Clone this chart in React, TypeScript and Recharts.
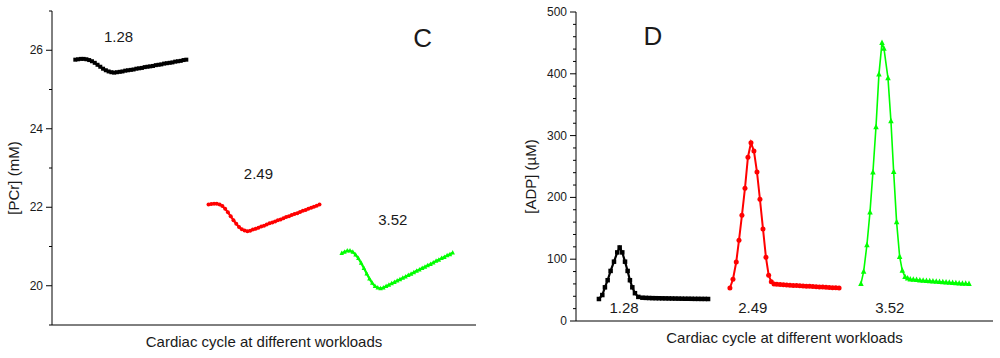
import { LineChart, Line, XAxis, YAxis, ReferenceDot } from 'recharts'

// time inside one cardiac cycle (fraction of the cycle)
const pcrTime = [
  0, 0.025, 0.05, 0.075, 0.1, 0.125, 0.15, 0.175, 0.2, 0.225, 0.25, 0.275, 0.3, 0.325, 0.35, 0.375, 0.4,
  0.425, 0.45, 0.475, 0.5, 0.525, 0.55, 0.575, 0.6, 0.625, 0.65, 0.675, 0.7, 0.725, 0.75, 0.775, 0.8,
  0.825, 0.85, 0.875, 0.9, 0.925, 0.95, 0.975, 1,
]

// [PCr] (mM) at workloads 1.28, 2.49, 3.52
const pcrBlack = [
  25.76, 25.77, 25.78, 25.78, 25.77, 25.75, 25.72, 25.68, 25.63, 25.58, 25.53, 25.49, 25.46, 25.44, 25.43,
  25.44, 25.45, 25.46, 25.48, 25.49, 25.5, 25.51, 25.53, 25.54, 25.55, 25.57, 25.58, 25.59, 25.6, 25.62,
  25.63, 25.64, 25.66, 25.67, 25.68, 25.69, 25.71, 25.72, 25.73, 25.75, 25.76,
]
const pcrRed = [
  22.07, 22.08, 22.09, 22.09, 22.07, 22.03, 21.96, 21.87, 21.77, 21.67, 21.58, 21.5, 21.44, 21.41, 21.39,
  21.4, 21.43, 21.45, 21.48, 21.51, 21.53, 21.56, 21.59, 21.61, 21.64, 21.67, 21.69, 21.72, 21.75, 21.77,
  21.8, 21.83, 21.85, 21.88, 21.91, 21.93, 21.96, 21.99, 22.01, 22.04, 22.07,
]
const pcrGreen = [
  20.83, 20.86, 20.89, 20.89, 20.86, 20.79, 20.7, 20.58, 20.45, 20.31, 20.18, 20.07, 19.99, 19.95, 19.93,
  19.95, 19.99, 20.02, 20.06, 20.09, 20.13, 20.16, 20.2, 20.23, 20.27, 20.3, 20.34, 20.38, 20.41, 20.45,
  20.48, 20.52, 20.55, 20.59, 20.63, 20.66, 20.7, 20.73, 20.77, 20.8, 20.84,
]

// [ADP] (uM), adaptive time steps
const adpTimeBlack = [
  0, 0.031, 0.055, 0.08, 0.107, 0.138, 0.168, 0.19, 0.214, 0.239, 0.263, 0.284, 0.306, 0.33, 0.361, 0.398,
  0.43, 0.46, 0.49, 0.52, 0.55, 0.58, 0.61, 0.64, 0.67, 0.7, 0.73, 0.76, 0.79, 0.82, 0.85, 0.88, 0.91,
  0.94, 0.97, 1,
]
const adpBlack = [
  35.6, 42, 54.5, 66, 81, 96, 111, 119, 111, 96, 81, 66, 54.5, 45, 39, 37.7,
  37.4, 37.2, 37, 36.9, 36.8, 36.7, 36.6, 36.5, 36.4, 36.3, 36.2, 36.1, 36, 36, 35.9, 35.8, 35.8, 35.7,
  35.7, 35.6,
]
const adpTimeRed = [
  0, 0.028, 0.058, 0.083, 0.11, 0.138, 0.165, 0.193, 0.22, 0.248, 0.275, 0.303, 0.33, 0.355, 0.379, 0.404,
  0.43, 0.46, 0.49, 0.52, 0.55, 0.58, 0.61, 0.64, 0.67, 0.7, 0.73, 0.76, 0.79, 0.82, 0.85, 0.88, 0.91,
  0.94, 0.97, 1,
]
const adpRed = [
  53.4, 67.5, 95.5, 130.6, 171, 215, 265, 288.5, 275, 241, 197, 149, 103, 74, 63.6, 60,
  59.5, 59, 58.6, 58.2, 57.9, 57.6, 57.3, 57, 56.7, 56.4, 56.1, 55.8, 55.5, 55.2, 54.9, 54.6, 54.3, 54,
  53.7, 53.5,
]
const adpTimeGreen = [
  0, 0.025, 0.055, 0.083, 0.11, 0.138, 0.165, 0.193, 0.211, 0.248, 0.275, 0.3, 0.327, 0.355, 0.379, 0.404,
  0.428, 0.452, 0.48, 0.51, 0.54, 0.57, 0.6, 0.63, 0.66, 0.69, 0.72, 0.75, 0.78, 0.81, 0.84, 0.87, 0.9,
  0.93, 0.96, 0.99,
]
const adpGreen = [
  60, 80, 123, 176, 240.6, 314, 399, 450, 441, 393, 323.6, 241.6, 160, 104, 81.5, 71.7, 69, 67.5,
  67, 66.5, 66, 65.6, 65.2, 64.8, 64.4, 64, 63.6, 63.2, 62.8, 62.4, 62, 61.6, 61.2, 60.8, 60.4, 60,
]

const cycleStart = [0.21, 1.41, 2.61]
const workloads = ['1.28', '2.49', '3.52']
const pcrLabelX = [0.6, 1.86, 3.07]
const pcrLabelY = [26.36, 22.85, 21.68]
const adpLabelX = [0.44, 1.62, 2.875]
const adpLabelY = [22, 22, 22]

const pcrTicks = [19, 20, 21, 22, 23, 24, 25, 26, 27]
const adpTicks = [
  0, 20, 40, 60, 80, 100, 120, 140, 160, 180, 200, 220, 240, 260, 280, 300, 320, 340, 360, 380, 400, 420,
  440, 460, 480, 500,
]

const FONT = '"Liberation Sans", Arial, Helvetica, sans-serif'
const colors = ['#000000', '#ff0000', '#00ff00']
const shapes = ['square', 'circle', 'triangle']

const toRows = (t: number[], v: number[], start: number) =>
  t.map((ti, i) => ({ x: start + ti, y: v[i] }))

function Marker({ cx, cy, shape, color, size }: any) {
  if (cx == null || cy == null) return null
  if (shape === 'square')
    return <rect x={cx - size / 2} y={cy - size / 2} width={size} height={size} fill={color} />
  if (shape === 'circle') return <circle cx={cx} cy={cy} r={size / 2} fill={color} />
  return (
    <polygon
      points={`${cx},${cy - size * 0.6} ${cx - size / 2},${cy + size * 0.4} ${cx + size / 2},${cy + size * 0.4}`}
      fill={color}
    />
  )
}

const yTick = (isMajor: (v: number) => boolean) => (props: any) => {
  const { x, y, payload, index } = props
  const major = isMajor(payload.value)
  return (
    <g key={`t-${index}`}>
      <line x1={x} x2={x - (major ? 6 : 3)} y1={y} y2={y} stroke="#000" strokeWidth={1} />
      {major && (
        <text x={x - 9} y={y} textAnchor="end" dominantBaseline="central" fontSize={12} fontFamily={FONT} fill="#1a1a1a">
          {payload.value}
        </text>
      )}
    </g>
  )
}

const yLabel = (text: string, dx: number) => (props: any) => {
  const vb = props.viewBox
  const cx = vb.x + dx
  const cy = vb.y + vb.height / 2 + 10
  return (
    <text x={cx} y={cy} transform={`rotate(-90 ${cx} ${cy})`} textAnchor="middle" dominantBaseline="central" fontSize={15} fontFamily={FONT} fill="#1a1a1a">
      {text}
    </text>
  )
}

const xLabel = (props: any) => {
  const vb = props.viewBox
  return (
    <text x={vb.x + vb.width / 2} y={vb.y + 22} textAnchor="middle" fontSize={15} fontFamily={FONT} fill="#1a1a1a">
      Cardiac cycle at different workloads
    </text>
  )
}

const textShape = (value: string, size: number) => (p: any) => (
  <text x={p.cx} y={p.cy} textAnchor="middle" dominantBaseline="central" fontSize={size} fontFamily={FONT} fill="#1a1a1a">
    {value}
  </text>
)

function PcrChart() {
  const series = [pcrBlack, pcrRed, pcrGreen]
  const sizes = [4, 4, 4.5]
  return (
    <LineChart width={500} height={358} margin={{ top: 11, right: 24, bottom: 0, left: 0 }}>
      <XAxis type="number" dataKey="x" domain={[0, 3.82]} tick={false} tickLine={false} height={33} stroke="#000" label={{ content: xLabel }} />
      <YAxis
        type="number"
        dataKey="y"
        domain={[19, 27]}
        ticks={pcrTicks}
        interval={0}
        width={52}
        tickSize={0}
        tickMargin={0}
        tickLine={false}
        stroke="#000"
        allowDataOverflow
        tick={yTick((v) => v % 2 === 0 && v !== 19 && v !== 27)}
        label={{ content: yLabel('[PCr] (mM)', 13) }}
      />
      {series.map((vals, k) => (
        <Line
          key={k}
          data={toRows(pcrTime, vals, cycleStart[k])}
          dataKey="y"
          type="linear"
          stroke={colors[k]}
          strokeWidth={2.2}
          isAnimationActive={false}
          dot={(p: any) => <Marker key={p.index} cx={p.cx} cy={p.cy} shape={shapes[k]} color={colors[k]} size={sizes[k]} />}
        />
      ))}
      {workloads.map((w, k) => (
        <ReferenceDot key={w} x={pcrLabelX[k]} y={pcrLabelY[k]} r={0} shape={textShape(w, 15)} />
      ))}
      <ReferenceDot x={3.34} y={26.3} r={0} shape={textShape('C', 26)} />
    </LineChart>
  )
}

function AdpChart() {
  const series = [
    [adpTimeBlack, adpBlack],
    [adpTimeRed, adpRed],
    [adpTimeGreen, adpGreen],
  ]
  const sizes = [4.5, 5, 5.5]
  const widths = [2.2, 2, 1.6]
  return (
    <LineChart width={500} height={358} margin={{ top: 12, right: 7, bottom: 0, left: 0 }}>
      <XAxis type="number" dataKey="x" domain={[0, 3.82]} tick={false} tickLine={false} height={37} stroke="#000" label={{ content: xLabel }} />
      <YAxis
        type="number"
        dataKey="y"
        domain={[0, 500]}
        ticks={adpTicks}
        interval={0}
        width={76}
        tickSize={0}
        tickMargin={0}
        tickLine={false}
        stroke="#000"
        allowDataOverflow
        tick={yTick((v) => v % 100 === 0)}
        label={{ content: yLabel('[ADP] (\u00b5M)', 30) }}
      />
      {series.map(([t, vals], k) => (
        <Line
          key={k}
          data={toRows(t, vals, cycleStart[k])}
          dataKey="y"
          type="linear"
          stroke={colors[k]}
          strokeWidth={widths[k]}
          isAnimationActive={false}
          dot={(p: any) => <Marker key={p.index} cx={p.cx} cy={p.cy} shape={shapes[k]} color={colors[k]} size={sizes[k]} />}
        />
      ))}
      {workloads.map((w, k) => (
        <ReferenceDot key={w} x={adpLabelX[k]} y={adpLabelY[k]} r={0} shape={textShape(w, 15)} />
      ))}
      <ReferenceDot x={0.705} y={461} r={0} shape={textShape('D', 26)} />
    </LineChart>
  )
}

export default function App() {
  return (
    <div style={{ position: 'absolute', left: 0, top: 0, width: 1000, height: 358, background: '#fff', fontFamily: FONT }}>
      <div style={{ position: 'absolute', left: 0, top: 0 }}>
        <PcrChart />
      </div>
      <div style={{ position: 'absolute', left: 500, top: 0 }}>
        <AdpChart />
      </div>
    </div>
  )
}
